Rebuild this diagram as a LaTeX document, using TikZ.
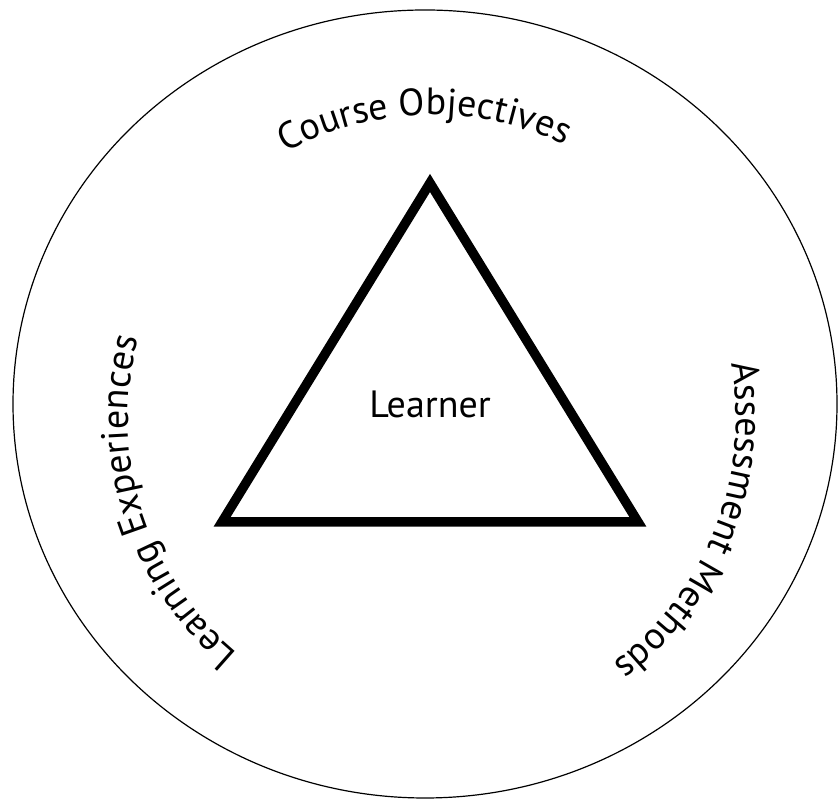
\documentclass[tikz,border=0pt]{standalone}
\usepackage{fontspec}
\setmainfont{PT Sans}
\usetikzlibrary{decorations.text}

\newcommand{\bigtext}{\fontsize{38}{45}\selectfont}

\tikzset{
  arclabel/.style={decorate,decoration={text along path,text align=center}},
  rim/.style={line width=1.2pt},
  wedge/.style={line width=9.5pt,line join=miter}
}

\begin{document}
\begin{tikzpicture}[x=1pt,y=1pt]
\useasboundingbox (0,0) rectangle (838,799);

\draw[rim] (425,395) ellipse [x radius=412,y radius=394];

\coordinate (apex) at (430,616);
\coordinate (left) at (222,277);
\coordinate (right) at (638,277);
\draw[wedge] (apex) -- (left) -- (right) -- cycle;

\node[anchor=base,font=\bigtext,inner sep=0pt] (learner) at (430,381) {Learner};

% texts round the rim, all clockwise
\coordinate (hub) at (432,380);
\path[arclabel,decoration={text={|\bigtext|Course Objectives}}]
  (hub) ++(133:304) arc[start angle=133,end angle=50,radius=304];
\path[arclabel,decoration={text={|\bigtext|Learning Experiences}}]
  (hub) ++(241.5:304) arc[start angle=241.5,end angle=153.5,radius=304];
\path[arclabel,decoration={text={|\bigtext|Assessment Methods}}]
  (hub) ++(22:304) arc[start angle=22,end angle=-65,radius=304];
\end{tikzpicture}
\end{document}
